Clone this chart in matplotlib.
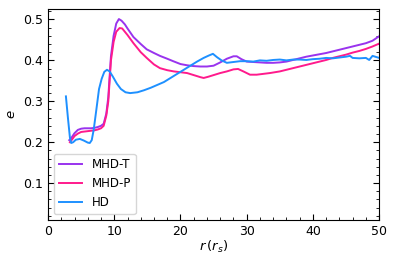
import matplotlib
matplotlib.use("Agg")
import matplotlib.pyplot as plt
from matplotlib.ticker import MultipleLocator

# MHD-T
r_t = [3.2, 3.5, 4.0, 4.5, 5.0, 5.5, 6.0, 6.5, 7.0, 7.5, 8.0, 8.4, 8.8, 9.1, 9.5, 9.9,
       10.3, 10.7, 11.1, 11.6, 12.0, 12.9, 14.0, 14.9, 16.0, 16.9, 18.0, 18.9, 20.0,
       21.0, 22.0, 23.0, 24.0, 25.0, 26.0, 27.0, 28.0, 28.5, 29.2, 30.0, 31, 32, 33,
       34, 35, 36, 37, 38, 39, 40, 41, 42, 43, 44, 45, 46, 47, 48, 49, 50]
e_t = [0.205, 0.210, 0.222, 0.230, 0.233, 0.234, 0.234, 0.234, 0.235, 0.237, 0.240,
       0.245, 0.270, 0.310, 0.410, 0.460, 0.490, 0.501, 0.497, 0.488, 0.478, 0.457,
       0.440, 0.427, 0.418, 0.411, 0.404, 0.398, 0.391, 0.388, 0.386, 0.385, 0.385,
       0.387, 0.395, 0.404, 0.410, 0.410, 0.403, 0.397, 0.396, 0.395, 0.394, 0.394,
       0.395, 0.397, 0.401, 0.405, 0.409, 0.412, 0.415, 0.418, 0.422, 0.426, 0.430,
       0.434, 0.438, 0.442, 0.448, 0.459]

# MHD-P
r_p = [3.3, 3.6, 4.0, 4.5, 5.0, 6.0, 7.0, 7.5, 8.0, 8.4, 8.8, 9.1, 9.5, 9.9, 10.3,
       10.8, 11.2, 11.6, 12.0, 12.9, 14.0, 14.9, 16.0, 16.9, 18.0, 19.0, 20.0, 21.0,
       22.0, 23.0, 23.5, 24.2, 25.0, 26.0, 27.0, 28.0, 28.7, 29.5, 30.5, 31.5, 32.5,
       33.5, 35, 36, 37, 38, 39, 40, 41, 42, 43, 44, 45, 46, 47, 48, 49, 50]
e_p = [0.200, 0.206, 0.215, 0.221, 0.225, 0.227, 0.229, 0.231, 0.234, 0.240, 0.265,
       0.300, 0.400, 0.445, 0.470, 0.479, 0.478, 0.470, 0.462, 0.442, 0.420, 0.406,
       0.390, 0.381, 0.376, 0.373, 0.371, 0.369, 0.364, 0.359, 0.357, 0.360, 0.364,
       0.369, 0.373, 0.378, 0.379, 0.373, 0.365, 0.365, 0.367, 0.369, 0.373, 0.377,
       0.381, 0.385, 0.389, 0.393, 0.397, 0.401, 0.406, 0.410, 0.414, 0.419, 0.423,
       0.428, 0.434, 0.441]

# HD
r_h = [2.7, 3.0, 3.3, 3.5, 3.8, 4.2, 4.8, 5.4, 6.0, 6.3, 6.6, 6.9, 7.3, 7.7, 8.1,
       8.5, 8.9, 9.3, 9.8, 10.4, 11.0, 11.7, 12.4, 13.5, 14.5, 15.5, 16.5, 17.5,
       18.5, 19.5, 20.5, 21.5, 22.5, 23.5, 24.3, 24.9, 25.5, 26.2, 27.0, 28, 29, 30,
       31, 32, 33, 34, 35, 36, 37, 38, 39, 40, 41, 42, 43, 44, 45, 45.6, 46, 47, 48,
       48.5, 49, 50]
e_h = [0.312, 0.260, 0.212, 0.198, 0.200, 0.206, 0.208, 0.204, 0.199, 0.198, 0.205,
       0.231, 0.280, 0.330, 0.355, 0.372, 0.377, 0.373, 0.360, 0.343, 0.330, 0.322,
       0.320, 0.322, 0.327, 0.333, 0.340, 0.347, 0.357, 0.367, 0.377, 0.387, 0.397,
       0.406, 0.412, 0.416, 0.408, 0.400, 0.394, 0.396, 0.398, 0.398, 0.397, 0.400,
       0.399, 0.401, 0.402, 0.400, 0.402, 0.402, 0.401, 0.403, 0.404, 0.406, 0.405,
       0.407, 0.409, 0.411, 0.406, 0.405, 0.406, 0.401, 0.411, 0.406]

labels = ["MHD-T", "MHD-P", "HD"]
colors = ["#9933EE", "#FF1A8C", "#1E90FF"]

fig = plt.figure(figsize=(3.97, 2.64), dpi=100)
ax = fig.add_axes([0.121, 0.167, 0.834, 0.798])

for r, e, lab, c in zip([r_t, r_p, r_h], [e_t, e_p, e_h], labels, colors):
    ax.plot(r, e, color=c, lw=1.4, label=lab)

ax.set_xlim(0, 50)
ax.set_ylim(0.01, 0.525)
ax.xaxis.set_major_locator(MultipleLocator(10))
ax.xaxis.set_minor_locator(MultipleLocator(2))
ax.yaxis.set_major_locator(MultipleLocator(0.1))
ax.yaxis.set_minor_locator(MultipleLocator(0.02))
ax.tick_params(which="both", direction="in", top=False, right=True, labelsize=9)
ax.tick_params(which="major", length=4)
ax.tick_params(which="minor", length=2)

ax.set_xlabel(r"$r\,(r_s)$", fontsize=9.5, labelpad=1)
ax.set_ylabel(r"$e$", fontsize=9.5, labelpad=4)
ax.legend(loc="lower left", fontsize=8.5, handlelength=2.0)

fig.savefig("out.png", dpi=100)
